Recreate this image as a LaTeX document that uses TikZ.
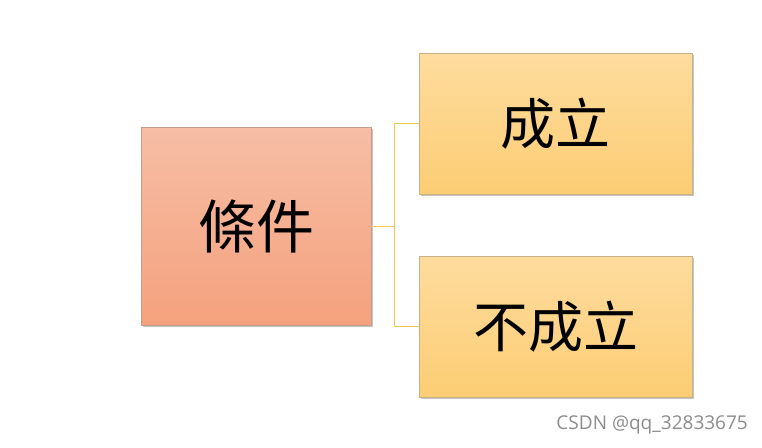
\documentclass[tikz,border=0pt]{standalone}
\usepackage{fontspec}
\setmainfont{Noto Sans CJK TC}
\newfontfamily\markfont{Open Sans}
\usetikzlibrary{shadows}

\definecolor{condtop}{HTML}{F6BEA5}
\definecolor{condbot}{HTML}{F5A17D}
\definecolor{restop}{HTML}{FEDC9E}
\definecolor{resbot}{HTML}{FCCD74}
\definecolor{linkline}{HTML}{F0C850}

\begin{document}
\begin{tikzpicture}[x=1pt, y=-1pt,
    condbox/.style={draw=condbot!70!black!70, line width=0.6pt,
        top color=condtop, bottom color=condbot,
        minimum width=230pt, minimum height=198pt, inner sep=0pt,
        drop shadow={shadow xshift=2pt, shadow yshift=-2pt, opacity=0.45},
        font=\fontsize{58}{58}\selectfont},
    resbox/.style={draw=resbot!70!black!70, line width=0.6pt,
        top color=restop, bottom color=resbot,
        minimum width=273pt, minimum height=141pt, inner sep=0pt,
        drop shadow={shadow xshift=2pt, shadow yshift=-2pt, opacity=0.45},
        font=\fontsize{55}{55}\selectfont},
    link/.style={draw=linkline, line width=0.8pt}]
    % canvas
    \useasboundingbox[fill=white] (0,0) rectangle (762,447);

    % condition
    \node[condbox] (cond) at (256,226) {條件};

    % outcomes
    \node[resbox] (yes) at (555.5,123.5) {成立};
    \node[resbox] (no) at (555.5,326.5) {不成立};

    % fork
    \coordinate (fork) at (394,226);
    \draw[link] (cond.east) -- (fork);
    \draw[link] (fork) |- (yes.west);
    \draw[link] (fork) |- (no.west);

    % watermark
    \node[gray!90, font=\markfont\fontsize{19}{19}\selectfont, anchor=east, inner sep=0pt] (mark) at (748,425) {CSDN @qq\_32833675};
\end{tikzpicture}
\end{document}
